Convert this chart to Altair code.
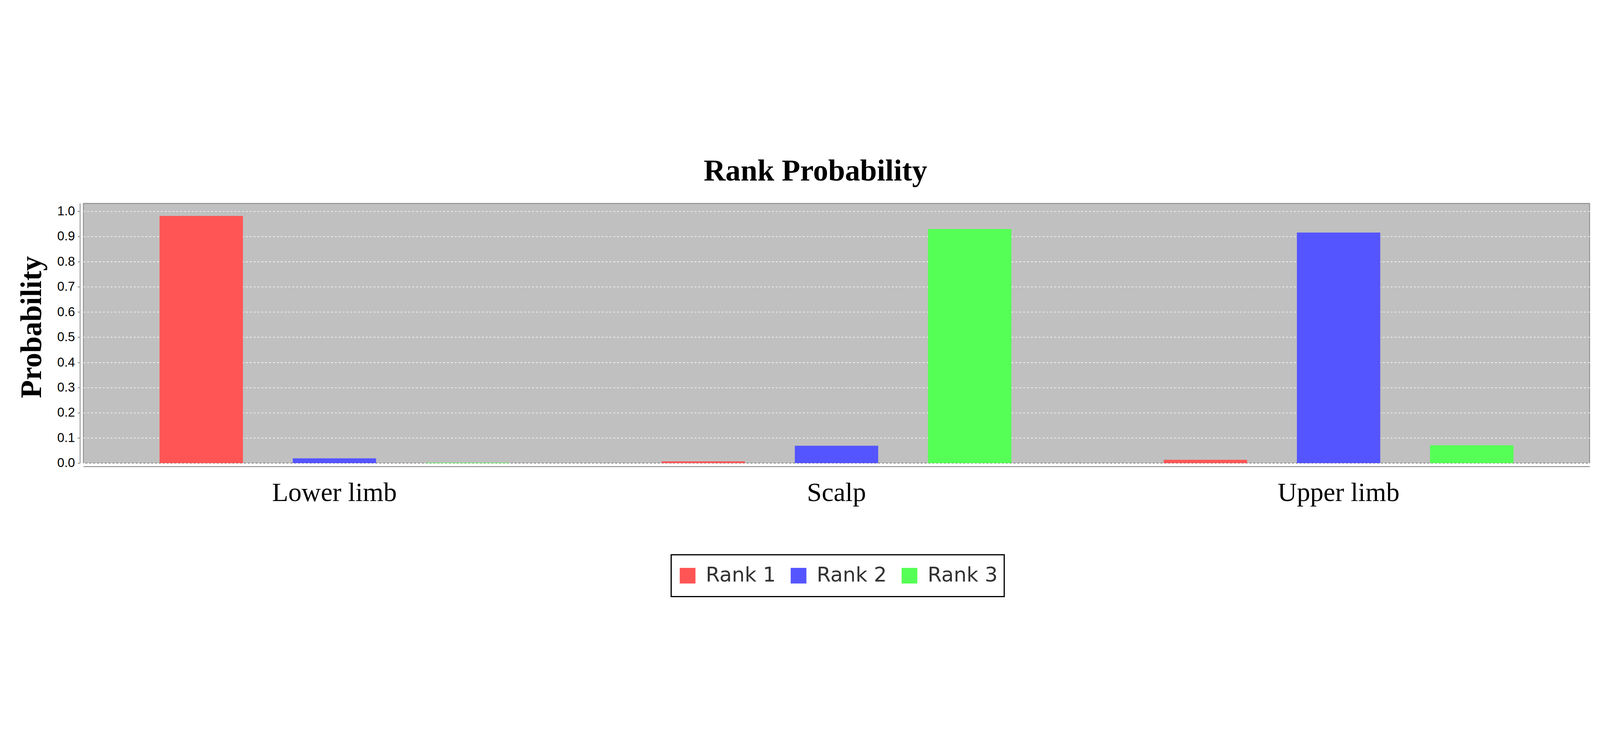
import altair as alt
import pandas as pd

categories = ["Lower limb", "Scalp", "Upper limb"]
series = ["Rank 1", "Rank 2", "Rank 3"]
rank1 = [0.982, 0.007, 0.013]
rank2 = [0.019, 0.069, 0.916]
rank3 = [0.002, 0.930, 0.071]
colors = ["#ff5555", "#5555ff", "#55ff55"]
y_ticks = [0.0, 0.1, 0.2, 0.3, 0.4, 0.5, 0.6, 0.7, 0.8, 0.9, 1.0]

rows = []
for s, vals in zip(series, [rank1, rank2, rank3]):
    for c, v in zip(categories, vals):
        rows.append({"category": c, "rank": s, "probability": v})
df = pd.DataFrame(rows)

chart = alt.Chart(df).mark_bar().encode(
    x=alt.X(
        "category:N", sort=categories,
        scale=alt.Scale(paddingInner=0, paddingOuter=0),
        axis=alt.Axis(title=None, labelAngle=0, ticks=False, tickSize=0,
                      labelPadding=142, labelBaseline="alphabetic",
                      labelFont="Liberation Serif", labelFontSize=110,
                      labelColor="black", domainColor="#808080", domainWidth=3,
                      offset=14, grid=False, labelLimit=2000),
    ),
    xOffset=alt.XOffset("rank:N", sort=series,
                        scale=alt.Scale(paddingInner=0.374, paddingOuter=0.572)),
    y=alt.Y(
        "probability:Q",
        scale=alt.Scale(domain=[0, 1.0317], nice=False, zero=True),
        axis=alt.Axis(title="Probability", values=y_ticks, format=".1f",
                      labelFont="Liberation Sans", labelFontSize=53,
                      labelColor="black", labelPadding=11, tickSize=10,
                      tickColor="#808080", tickWidth=3, domainColor="#808080",
                      domainWidth=3, offset=14, grid=True, gridColor="#ffffff",
                      gridDash=[8, 8], gridWidth=2.5,
                      titleFont="Liberation Serif", titleFontWeight="bold",
                      titleFontSize=122, titleColor="black", titleX=-162,
                      titleY=511, titleAngle=270, titleAlign="center",
                      titleBaseline="alphabetic"),
    ),
    color=alt.Color(
        "rank:N", sort=series,
        scale=alt.Scale(domain=series, range=colors),
        legend=alt.Legend(title=None, orient="none", legendX=2432, legendY=1453,
                          direction="horizontal", symbolType="square",
                          symbolSize=4225, symbolStrokeWidth=0,
                          labelFont="DejaVu Sans", labelFontSize=84,
                          labelColor="#333333", labelOffset=33, columnPadding=51,
                          padding=26, strokeColor="black", clipHeight=121,
                          labelLimit=2000),
    ),
).properties(
    width=6232, height=1074,
    padding={"left": 332, "top": 249, "right": 30, "bottom": 557},
    autosize=alt.AutoSizeParams(type="none"),
    background="white",
    title=alt.TitleParams("Rank Probability", font="Liberation Serif", fontSize=125,
                          fontWeight="bold", color="black", anchor="middle",
                          frame="group", dx=-87, dy=121, offset=90,
                          baseline="alphabetic"),
).configure_view(
    fill="#c0c0c0", stroke="#808080", strokeWidth=3
).configure_legend(strokeWidth=5)

chart.save("out.html", embed_options={"renderer": "svg", "actions": False})
